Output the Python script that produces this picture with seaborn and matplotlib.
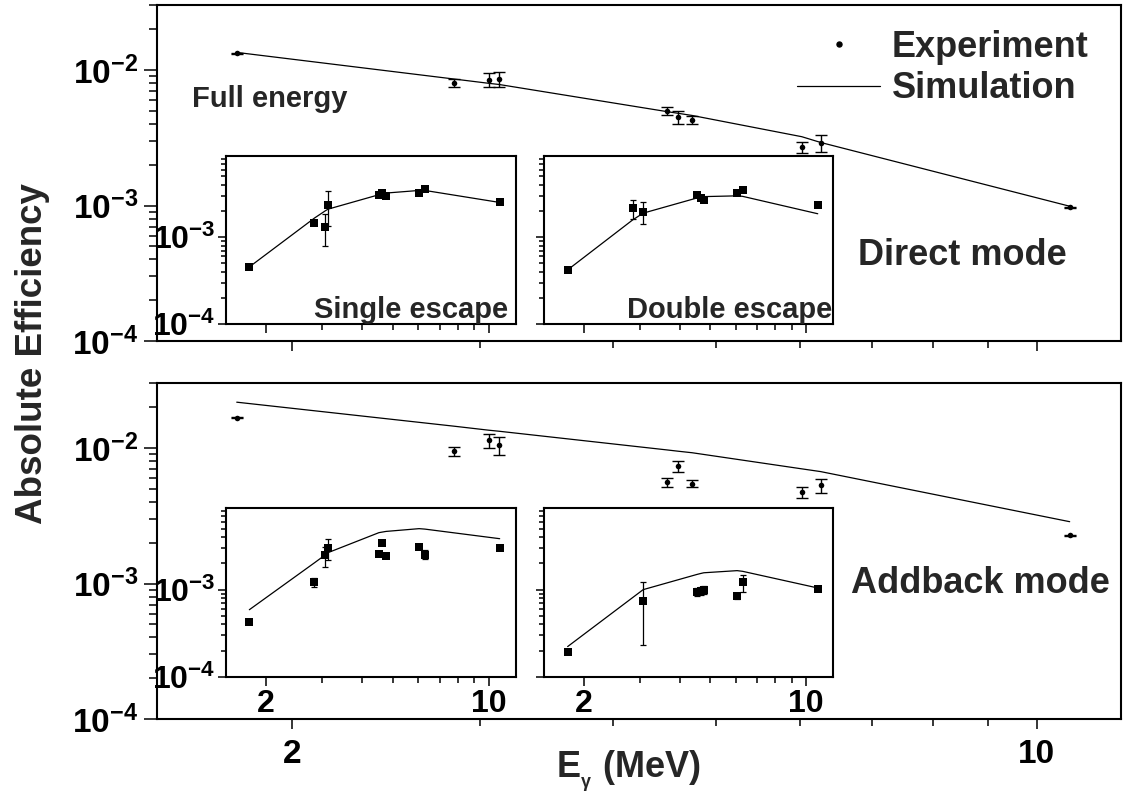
import matplotlib
matplotlib.use("Agg")
import matplotlib.pyplot as plt
import seaborn as sns
from matplotlib.lines import Line2D
from matplotlib.ticker import FixedLocator, FixedFormatter, NullFormatter, LogLocator

# ---------------- data ----------------
# Full-energy peak efficiencies (main panels)
energy_full = [1.775, 2.84, 3.06, 3.13, 4.50, 4.61, 4.75, 6.02, 6.27, 10.74]
direct_exp = [0.01327, 0.00807, 0.00844, 0.00854, 0.00500, 0.00449, 0.00429, 0.00269, 0.00289, 0.000972]
direct_err = [0.0001, 0.00055, 0.0010, 0.0011, 0.00034, 0.00046, 0.00027, 0.00026, 0.00041, 0.00001]
direct_sim = [0.01349, 0.00858, 0.00798, 0.00782, 0.00493, 0.00479, 0.00462, 0.00322, 0.00292, 0.000988]

addback_exp = [0.01673, 0.00945, 0.0114, 0.01047, 0.00562, 0.00738, 0.00547, 0.00470, 0.00532, 0.00228]
addback_err = [0.00015, 0.00072, 0.00135, 0.0016, 0.00043, 0.00071, 0.00035, 0.00044, 0.00063, 0.00002]
addback_sim = [0.0218, 0.01449, 0.01354, 0.0133, 0.00968, 0.00947, 0.00923, 0.00702, 0.0067, 0.00286]

# Single escape (insets, left)
energy_se = [1.775, 2.84, 3.07, 3.13, 4.52, 4.63, 4.76, 6.04, 6.30, 10.8]
se_direct_exp = [4.54e-4, 1.45e-3, 1.315e-3, 2.36e-3, 3.08e-3, 3.22e-3, 2.94e-3, 3.22e-3, 3.58e-3, 2.51e-3]
se_direct_err = [0, 0, 5.2e-4, 1.0e-3, 0, 0, 0, 0, 0, 0]
se_direct_sim = [4.54e-4, 1.66e-3, 2.01e-3, 2.10e-3, 3.08e-3, 3.15e-3, 3.22e-3, 3.45e-3, 3.45e-3, 2.51e-3]

se_addback_exp = [4.28e-4, 1.21e-3, 2.46e-3, 2.96e-3, 2.59e-3, 3.44e-3, 2.42e-3, 3.06e-3, 2.52e-3, 3.01e-3]
se_addback_err = [0, 1.5e-4, 6.5e-4, 8.0e-4, 0, 0, 0, 0, 3.0e-4, 0]
se_addback_sim = [5.89e-4, 2.03e-3, 2.50e-3, 2.65e-3, 4.49e-3, 4.56e-3, 4.64e-3, 4.99e-3, 4.93e-3, 3.83e-3]

# Double escape (insets, right)
energy_de = [1.78, 2.85, 3.075, 4.53, 4.66, 4.77, 6.07, 6.32, 10.88]
de_direct_exp = [4.2e-4, 2.16e-3, 1.97e-3, 3.08e-3, 2.82e-3, 2.69e-3, 3.22e-3, 3.51e-3, 2.36e-3]
de_direct_err = [0, 5.5e-4, 5.5e-4, 0, 0, 0, 0, 0, 0]
de_direct_sim = [4.2e-4, 1.58e-3, 1.89e-3, 2.82e-3, 2.88e-3, 2.93e-3, 2.99e-3, 2.95e-3, 1.86e-3]

energy_de_ab = [1.78, 3.075, 4.53, 4.66, 4.77, 6.07, 6.32, 10.88]
de_addback_exp = [1.95e-4, 7.34e-4, 9.4e-4, 9.7e-4, 1.0e-3, 8.38e-4, 1.21e-3, 1.027e-3]
de_addback_err = [0, 5.0e-4, 1.0e-4, 1.0e-4, 1.0e-4, 5.0e-5, 2.7e-4, 0]
de_addback_sim = [2.23e-4, 1.0e-3, 1.49e-3, 1.53e-3, 1.56e-3, 1.65e-3, 1.62e-3, 1.045e-3]

# ticks and labels
x_major = [2, 10]
x_minor = [3, 4, 5, 6, 7, 8, 9]
x_major_labels = ["2", "10"]
main_y_major = [1e-4, 1e-3, 1e-2]
main_y_labels = [r"$10^{-4}$", r"$10^{-3}$", r"$10^{-2}$"]
inset_y_major = [1e-4, 1e-3]
inset_y_labels = [r"$10^{-4}$", r"$10^{-3}$"]

# ---------------- style ----------------
sns.set_style("ticks")
plt.rcParams["font.family"] = ["Liberation Sans", "DejaVu Sans"]
plt.rcParams["font.weight"] = "bold"
plt.rcParams["mathtext.fontset"] = "custom"
plt.rcParams["mathtext.rm"] = "Liberation Sans:bold"
plt.rcParams["mathtext.bf"] = "Liberation Sans:bold"
plt.rcParams["mathtext.it"] = "Liberation Sans:bold"
plt.rcParams["mathtext.sf"] = "Liberation Sans:bold"
plt.rcParams["mathtext.default"] = "bf"
plt.rcParams["axes.edgecolor"] = "black"
plt.rcParams["xtick.color"] = "black"
plt.rcParams["ytick.color"] = "black"

W, H = 1126, 796
fig = plt.figure(figsize=(W / 100, H / 100), dpi=100)
fig.patch.set_facecolor("white")


def rect(x0, y0, x1, y1):
    return [x0 / W, 1 - y1 / H, (x1 - x0) / W, (y1 - y0) / H]


def ftext(x, y, s, **kw):
    fig.text(x / W, 1 - y / H, s, **kw)


def style_axes(ax, xlim, ylim, y_major, y_labels, show_x, show_y, inset):
    ax.set_xscale("log")
    ax.set_yscale("log")
    ax.set_xlim(*xlim)
    ax.set_ylim(*ylim)
    ax.xaxis.set_major_locator(FixedLocator(x_major))
    ax.xaxis.set_minor_locator(FixedLocator(x_minor))
    ax.xaxis.set_major_formatter(FixedFormatter(x_major_labels) if show_x else NullFormatter())
    ax.xaxis.set_minor_formatter(NullFormatter())
    ax.yaxis.set_major_locator(FixedLocator(y_major))
    ax.yaxis.set_major_formatter(FixedFormatter(y_labels) if show_y else NullFormatter())
    ax.yaxis.set_minor_locator(LogLocator(base=10, subs=range(2, 10), numticks=20))
    ax.yaxis.set_minor_formatter(NullFormatter())
    ax.set_xlabel("")
    ax.set_ylabel("")
    if inset:
        ax.tick_params(axis="x", which="major", direction="out", length=6.5, width=1.1, labelsize=23, pad=2)
        ax.tick_params(axis="x", which="minor", direction="out", length=4.3, width=1.1)
        ax.tick_params(axis="y", which="major", direction="out", length=5.8, width=1.1, labelsize=23, pad=2)
        ax.tick_params(axis="y", which="minor", direction="out", length=3.6, width=1.1)
    else:
        ax.tick_params(axis="x", which="major", direction="out", length=7.5, width=1.1, labelsize=24, pad=7)
        ax.tick_params(axis="x", which="minor", direction="out", length=5, width=1.1)
        ax.tick_params(axis="y", which="major", direction="out", length=9.4, width=1.1, labelsize=24, pad=4)
        ax.tick_params(axis="y", which="minor", direction="out", length=5.6, width=1.1)
    ax.tick_params(top=False, right=False)
    for sp in ax.spines.values():
        sp.set_visible(True)
        sp.set_linewidth(1.5)
        sp.set_color("black")
    ax.set_facecolor("white")


def draw_main(ax, sim, exp, err):
    sns.lineplot(x=energy_full, y=sim, ax=ax, color="black", linewidth=0.9, estimator=None, sort=False)
    ax.errorbar(energy_full, exp, yerr=err, fmt="none", ecolor="black", elinewidth=1.0,
                capsize=4.2, capthick=1.0, zorder=3)
    sns.scatterplot(x=energy_full, y=exp, ax=ax, color="black", marker="o", s=16,
                    linewidth=0, zorder=4)


def draw_inset(ax, energies, sim, exp, err):
    sns.lineplot(x=energies, y=sim, ax=ax, color="black", linewidth=0.9, estimator=None, sort=False)
    ax.errorbar(energies, exp, yerr=err, fmt="none", ecolor="black", elinewidth=0.9,
                capsize=2.0, capthick=0.9, zorder=3)
    sns.scatterplot(x=energies, y=exp, ax=ax, color="black", marker="s", s=36,
                    linewidth=0, zorder=4)


main_xlim = (1.494, 12.0)
main_ylim = (1e-4, 0.0302)
inset_xlim = (1.5, 12.15)
inset_ylim = (1e-4, 8.6e-3)

# ---- top main panel (direct mode) ----
ax_top = fig.add_axes(rect(157, 5, 1121, 341))
draw_main(ax_top, direct_sim, direct_exp, direct_err)
style_axes(ax_top, main_xlim, main_ylim, main_y_major, main_y_labels, False, True, False)

handles = [Line2D([], [], color="black", marker="o", linestyle="none", markersize=3.6),
           Line2D([], [], color="black", linewidth=0.9)]
ax_top.legend(handles, ["Experiment", "Simulation"], loc="upper left",
              bbox_to_anchor=((797 - 157) / 964, 1 - 25 / 336), borderaxespad=0, borderpad=0,
              frameon=False, handlelength=2.3, handletextpad=0.32,
              labelspacing=0.18, prop={"size": 26, "weight": "bold"})

# ---- bottom main panel (addback mode) ----
ax_bot = fig.add_axes(rect(157, 383, 1121, 719))
draw_main(ax_bot, addback_sim, addback_exp, addback_err)
style_axes(ax_bot, main_xlim, main_ylim, main_y_major, main_y_labels, True, True, False)

# ---- insets ----
ax_tl = fig.add_axes(rect(226, 156, 516, 324))
draw_inset(ax_tl, energy_se, se_direct_sim, se_direct_exp, se_direct_err)
style_axes(ax_tl, inset_xlim, inset_ylim, inset_y_major, inset_y_labels, False, True, True)

ax_tr = fig.add_axes(rect(544, 156, 833, 324))
draw_inset(ax_tr, energy_de, de_direct_sim, de_direct_exp, de_direct_err)
style_axes(ax_tr, inset_xlim, inset_ylim, inset_y_major, inset_y_labels, False, False, True)

ax_bl = fig.add_axes(rect(226, 508, 516, 677))
draw_inset(ax_bl, energy_se, se_addback_sim, se_addback_exp, se_addback_err)
style_axes(ax_bl, inset_xlim, inset_ylim, inset_y_major, inset_y_labels, True, True, True)

ax_br = fig.add_axes(rect(544, 508, 833, 677))
draw_inset(ax_br, energy_de_ab, de_addback_sim, de_addback_exp, de_addback_err)
style_axes(ax_br, inset_xlim, inset_ylim, inset_y_major, inset_y_labels, True, False, True)

# ---- annotations ----
ftext(192, 106.7, "Full energy", fontsize=21, ha="left", va="baseline")
ftext(962, 265, "Direct mode", fontsize=26, ha="center", va="baseline")
ftext(980, 593.3, "Addback mode", fontsize=26, ha="center", va="baseline")
ftext(508, 318, "Single escape", fontsize=21, ha="right", va="baseline")
ftext(832, 318, "Double escape", fontsize=21, ha="right", va="baseline")

ftext(33, 353, "Absolute Efficiency", fontsize=26.5, rotation=90, ha="center", va="center")
ftext(556, 778, r"E$_{_{\gamma}}$ (MeV)", fontsize=26, ha="left", va="baseline")

fig.savefig("out.png", dpi=100, facecolor="white")
